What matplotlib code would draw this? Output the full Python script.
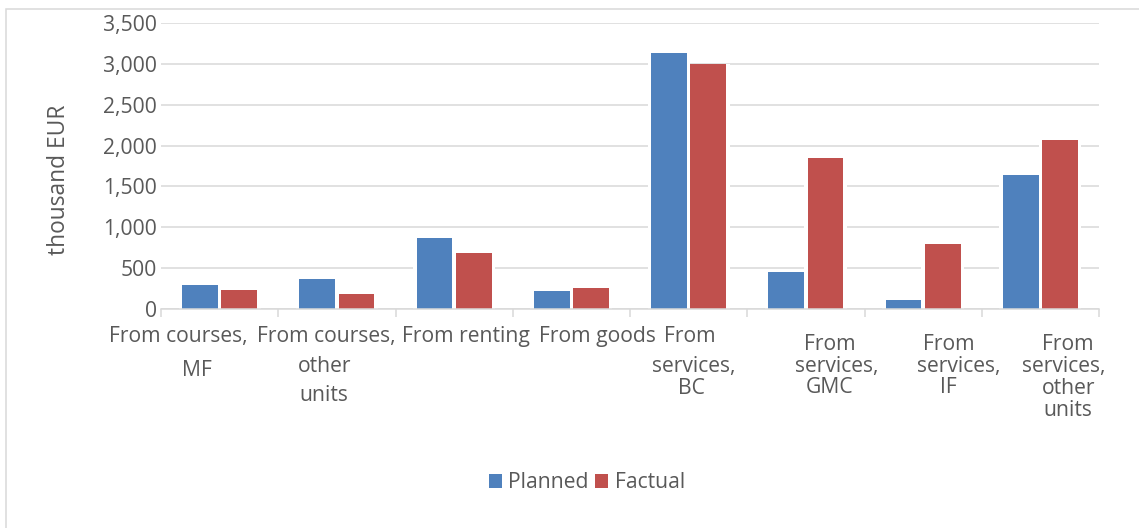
import matplotlib
matplotlib.use("Agg")
import matplotlib.pyplot as plt
from matplotlib.patches import Rectangle, Patch
import numpy as np

plt.rcParams['font.family'] = ['Open Sans', 'DejaVu Sans']

# ---- data ----
categories = [
    "From courses, MF",
    "From courses, other units",
    "From renting",
    "From goods",
    "From services, BC",
    "From services, GMC",
    "From services, IF",
    "From services, other units",
]
planned = [295, 370, 872, 224, 3134, 456, 114, 1640]
factual = [232, 180, 685, 257, 3004, 1845, 790, 2068]
series_names = ["Planned", "Factual"]
y_ticks = [0, 500, 1000, 1500, 2000, 2500, 3000, 3500]
y_label = "thousand EUR"

# label lines as wrapped in the original (text only)
label_lines = [
    ["From courses,", "MF"],
    ["From courses,", "other", "units"],
    ["From renting"],
    ["From goods"],
    ["From", "services,", "BC"],
    ["From", "services,", "GMC"],
    ["From", "services,", "IF"],
    ["From", "services,", "other", "units"],
]
# layout: (x-center px, baseline px) per line
label_layout = [
    [(178, 342), (197, 376)],
    [(326, 342), (325, 372), (324, 401)],
    [(466, 342)],
    [(597, 342)],
    [(690, 342), (694, 372), (691, 394)],
    [(830, 350), (837, 372), (830, 393)],
    [(949, 350), (959, 372), (948, 393)],
    [(1068, 350), (1064, 372), (1069, 394), (1068, 416)],
]

W, H = 1139, 528
BLUE = "#4F81BD"
RED = "#C0504D"
TXT = "#595959"
GRID = "#D9D9D9"
FS = 15.2

fig = plt.figure(figsize=(W / 100, H / 100), dpi=100)
fig.patch.set_facecolor("white")

# outer chart border (extends beyond right/bottom edges)
fig.patches.append(Rectangle((6 / W, -0.1), 1.2, (H - 9) / H + 0.1,
                             transform=fig.transFigure, fill=False,
                             edgecolor=GRID, linewidth=1.1))

ax = fig.add_axes([161 / W, 1 - 309 / H, 938 / W, 286 / H])
x = np.arange(len(categories))
off = 0.168
bw = 0.305
# white backing (hides gridlines just around the bars)
for xs, vals in ((x - off, planned), (x + off, factual)):
    ax.bar(xs, vals, width=bw + 0.06, color="white", linewidth=0, zorder=2)
ax.bar(x - off, planned, width=bw, color=BLUE, linewidth=0, zorder=3)
ax.bar(x + off, factual, width=bw, color=RED, linewidth=0, zorder=3)

ax.set_xlim(-0.5, len(categories) - 0.5)
ax.set_ylim(0, 3500)
ax.set_yticks(y_ticks)
ax.set_yticklabels([f"{v:,}" for v in y_ticks], fontsize=FS, color=TXT)
ax.tick_params(axis="y", length=0, pad=3)
ax.grid(axis="y", color=GRID, linewidth=1.1, zorder=0)
ax.set_axisbelow(True)

ax.set_xticks(np.arange(-0.5, len(categories), 1.0))
ax.set_xticklabels([])
ax.tick_params(axis="x", length=6, width=1.1, color=GRID, direction="out")

for s in ["top", "right", "left"]:
    ax.spines[s].set_visible(False)
ax.spines["bottom"].set_color(GRID)
ax.spines["bottom"].set_linewidth(1.1)
ax.spines["bottom"].set_zorder(4)

# category labels
for lines, pos in zip(label_lines, label_layout):
    for txt, (px, py) in zip(lines, pos):
        fig.text(px / W, 1 - py / H, txt, ha="center", va="baseline",
                 fontsize=FS, color=TXT)

fig.text(59 / W, 1 - 180 / H, y_label, rotation=90, ha="center",
         va="center", fontsize=16.4, color=TXT)

handles = [Patch(facecolor=BLUE, edgecolor="none"),
           Patch(facecolor=RED, edgecolor="none")]
fig.legend(handles, series_names, loc="center",
           bbox_to_anchor=(587 / W, 1 - 483 / H), ncol=2, frameon=False,
           fontsize=FS, labelcolor=TXT, handlelength=0.62,
           handleheight=0.62, handletextpad=0.3, columnspacing=0.3,
           borderpad=0, borderaxespad=0)

fig.savefig("out.png", dpi=100, facecolor="white")
